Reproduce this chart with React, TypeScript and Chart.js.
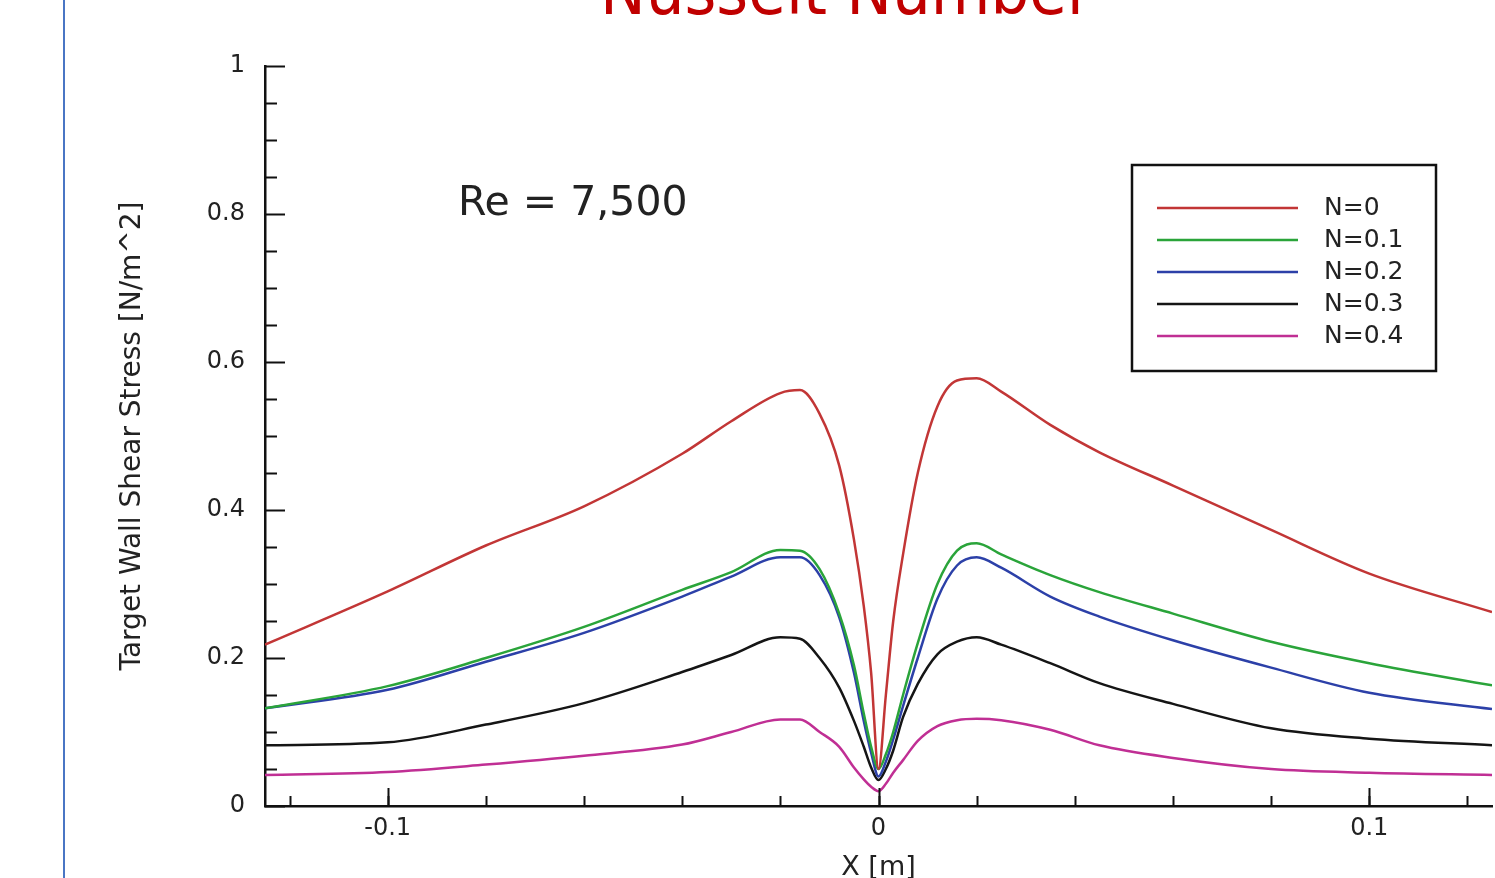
import React, { useEffect, useRef } from 'react';
import { Chart, registerables } from 'chart.js';

Chart.register(...registerables);

// ---- data ----
const xPositions = [
  -0.125, -0.1, -0.08, -0.06, -0.04, -0.03, -0.02, -0.016, -0.012, -0.008, -0.005, -0.003, -0.0015, 0,
  0.0015, 0.003, 0.005, 0.008, 0.012, 0.016, 0.02, 0.025, 0.035, 0.045, 0.06, 0.08, 0.1, 0.125,
];
const seriesLabels = ['N=0', 'N=0.1', 'N=0.2', 'N=0.3', 'N=0.4'];
const seriesN0 = [
  0.218, 0.29, 0.352, 0.405, 0.476, 0.52, 0.558, 0.562, 0.53, 0.46, 0.36, 0.27, 0.18, 0.05,
  0.15, 0.25, 0.34, 0.45, 0.54, 0.575, 0.578, 0.56, 0.515, 0.478, 0.433, 0.373, 0.314, 0.262,
];
const seriesN01 = [
  0.132, 0.162, 0.2, 0.242, 0.292, 0.316, 0.346, 0.345, 0.32, 0.26, 0.19, 0.125, 0.08, 0.05,
  0.07, 0.1, 0.15, 0.22, 0.3, 0.345, 0.355, 0.34, 0.312, 0.289, 0.26, 0.222, 0.193, 0.163,
];
const seriesN02 = [
  0.132, 0.157, 0.195, 0.234, 0.283, 0.31, 0.336, 0.336, 0.312, 0.255, 0.18, 0.115, 0.072, 0.04,
  0.06, 0.09, 0.135, 0.2, 0.28, 0.325, 0.336, 0.322, 0.283, 0.256, 0.224, 0.187, 0.153, 0.131,
];
const seriesN03 = [
  0.082, 0.086, 0.11, 0.139, 0.181, 0.204, 0.228, 0.226, 0.2, 0.16, 0.115, 0.08, 0.052, 0.035,
  0.05, 0.075, 0.12, 0.165, 0.205, 0.222, 0.228, 0.218, 0.193, 0.166, 0.138, 0.105, 0.091, 0.082,
];
const seriesN04 = [
  0.042, 0.046, 0.056, 0.068, 0.083, 0.1, 0.117, 0.117, 0.1, 0.08, 0.052, 0.036, 0.026, 0.02,
  0.03, 0.045, 0.062, 0.088, 0.108, 0.116, 0.118, 0.116, 0.103, 0.082, 0.065, 0.05, 0.045, 0.042,
];
const seriesValues = [seriesN0, seriesN01, seriesN02, seriesN03, seriesN04];
const seriesColors = ['#c23636', '#2aa43a', '#2c40a8', '#151515', '#c02f94'];

const xTickValues = [-0.1, 0, 0.1];
const xMinorStep = 0.02;
const yMinorStep = 0.05;
const yMajorStep = 0.2;

const pageTitle = 'Nusselt Number';
const yAxisTitle = 'Target Wall Shear Stress [N/m^2]';
const xAxisTitle = 'X [m]';
const annotationText = 'Re = 7,500';
const annotationAt = { x: -0.0857, y: 0.8135 };

const FONT = "'DejaVu Sans', 'Liberation Sans', sans-serif";

const innerTicksPlugin = {
  id: 'innerTicks',
  afterDraw(chart: any) {
    const { ctx, chartArea, scales } = chart;
    const xs = scales.x;
    const ys = scales.y;
    ctx.save();
    ctx.strokeStyle = '#111';
    ctx.lineWidth = 2;
    for (let i = 0; i * yMinorStep <= 1 + 1e-9; i++) {
      const v = i * yMinorStep;
      const major = Math.abs(v / yMajorStep - Math.round(v / yMajorStep)) < 1e-6;
      const py = Math.round(ys.getPixelForValue(v)) + 0.5;
      const len = major ? 20 : 12;
      ctx.beginPath();
      ctx.moveTo(chartArea.left, py);
      ctx.lineTo(chartArea.left + len, py);
      ctx.stroke();
    }
    const start = Math.ceil(xs.min / xMinorStep);
    const end = Math.floor(xs.max / xMinorStep);
    for (let i = start; i <= end; i++) {
      const v = i * xMinorStep;
      const px = Math.round(xs.getPixelForValue(v)) + 0.5;
      ctx.beginPath();
      ctx.moveTo(px, chartArea.bottom);
      ctx.lineTo(px, chartArea.bottom - 10);
      ctx.stroke();
    }
    for (const v of xTickValues) {
      const px = Math.round(xs.getPixelForValue(v)) + 0.5;
      ctx.beginPath();
      ctx.moveTo(px, chartArea.bottom);
      ctx.lineTo(px, chartArea.bottom - 18);
      ctx.stroke();
    }
    // annotation
    ctx.fillStyle = '#222';
    ctx.font = `41px ${FONT}`;
    ctx.textAlign = 'left';
    ctx.textBaseline = 'middle';
    ctx.fillText(annotationText, xs.getPixelForValue(annotationAt.x), ys.getPixelForValue(annotationAt.y));
    ctx.restore();
  },
};

const boxLegendPlugin = {
  id: 'boxLegend',
  afterDraw(chart: any) {
    const { ctx } = chart;
    const left = 1132, top = 165, width = 304, height = 206;
    ctx.save();
    ctx.fillStyle = '#fff';
    ctx.fillRect(left, top, width, height);
    ctx.strokeStyle = '#111';
    ctx.lineWidth = 2.5;
    ctx.strokeRect(left, top, width, height);
    chart.data.datasets.forEach((ds: any, i: number) => {
      const y = top + 43 + i * 32;
      ctx.strokeStyle = ds.borderColor;
      ctx.lineWidth = 2.5;
      ctx.beginPath();
      ctx.moveTo(left + 25, y);
      ctx.lineTo(left + 166, y);
      ctx.stroke();
      ctx.fillStyle = '#222';
      ctx.font = `25px ${FONT}`;
      ctx.textAlign = 'left';
      ctx.textBaseline = 'middle';
      ctx.fillText(ds.label, left + 192, y);
    });
    ctx.restore();
  },
};

export default function App() {
  const canvasRef = useRef<HTMLCanvasElement | null>(null);

  useEffect(() => {
    if (!canvasRef.current) return;
    const chart = new Chart(canvasRef.current, {
      type: 'line',
      data: {
        datasets: seriesLabels.map((label, i) => ({
          label,
          data: xPositions.map((x, j) => ({ x, y: seriesValues[i][j] })),
          borderColor: seriesColors[i],
          backgroundColor: seriesColors[i],
          borderWidth: 2.5,
          pointRadius: 0,
          cubicInterpolationMode: 'monotone' as const,
          fill: false,
        })),
      },
      options: {
        responsive: false,
        animation: false,
        devicePixelRatio: 1,
        layout: { padding: { left: 0, top: 66, right: 3, bottom: 0 } },
        plugins: {
          legend: { display: false },
          tooltip: { enabled: false },
          title: { display: false },
        },
        scales: {
          x: {
            type: 'linear',
            min: -0.125,
            max: 0.125,
            afterBuildTicks: (scale: any) => {
              scale.ticks = xTickValues.map((value) => ({ value }));
            },
            afterFit: (scale: any) => {
              scale.height = 72;
            },
            grid: { display: false, drawTicks: false },
            border: { display: true, color: '#111', width: 2.5 },
            ticks: {
              padding: 8,
              color: '#222',
              font: { family: FONT, size: 24 },
              callback: (v: any) => String(+Number(v).toFixed(3)),
              maxRotation: 0,
            },
            title: {
              display: true,
              text: xAxisTitle,
              color: '#222',
              font: { family: FONT, size: 27 },
              padding: { top: 0, bottom: -6 },
            },
          },
          y: {
            type: 'linear',
            min: 0,
            max: 1,
            afterFit: (scale: any) => {
              scale.width = 265;
            },
            grid: { display: false, drawTicks: false },
            border: { display: true, color: '#111', width: 2.5 },
            ticks: {
              stepSize: yMajorStep,
              padding: 20,
              color: '#222',
              font: { family: FONT, size: 24 },
              callback: (v: any) => String(+Number(v).toFixed(2)),
            },
            title: {
              display: true,
              text: yAxisTitle,
              color: '#222',
              font: { family: FONT, size: 28 },
              padding: { top: 116, bottom: 0 },
            },
          },
        },
      },
      plugins: [innerTicksPlugin, boxLegendPlugin],
    });
    return () => chart.destroy();
  }, []);

  return (
    <div
      style={{
        position: 'absolute',
        left: 0,
        top: 0,
        width: 1495,
        height: 878,
        overflow: 'hidden',
        background: '#fff',
      }}
    >
      <div
        style={{
          position: 'absolute',
          left: 63,
          top: 0,
          width: 2,
          height: 878,
          background: '#4a76c4',
        }}
      />
      <div
        style={{
          position: 'absolute',
          left: 846,
          top: -43,
          transform: 'translateX(-50%)',
          whiteSpace: 'nowrap',
          fontFamily: "'Liberation Sans Narrow', 'DejaVu Sans Condensed', sans-serif",
          fontSize: 68,
          lineHeight: 1,
          color: '#c00000',
        }}
      >
        {pageTitle}
      </div>
      <canvas
        ref={canvasRef}
        width={1495}
        height={878}
        style={{ position: 'absolute', left: 0, top: 0, display: 'block' }}
      />
    </div>
  );
}
